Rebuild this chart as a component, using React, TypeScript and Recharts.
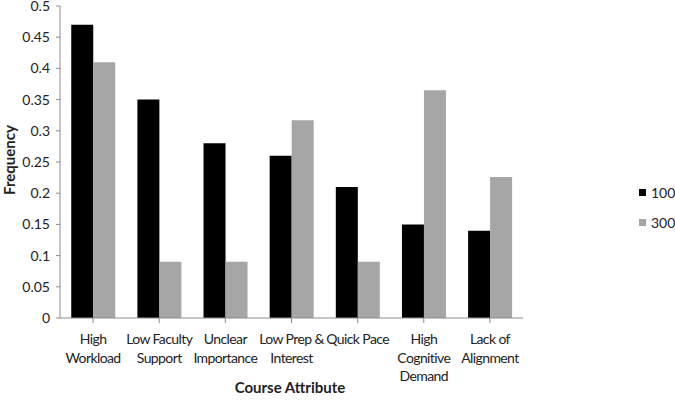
import React from 'react';
import { BarChart, Bar, XAxis, YAxis, Legend } from 'recharts';

const categories = [
  'High\nWorkload',
  'Low Faculty\nSupport',
  'Unclear\nImportance',
  'Low Prep &\nInterest',
  'Quick Pace',
  'High\nCognitive\nDemand',
  'Lack of\nAlignment',
];
const series100 = [0.47, 0.35, 0.28, 0.26, 0.21, 0.15, 0.14];
const series300 = [0.41, 0.09, 0.09, 0.317, 0.09, 0.365, 0.226];
const yTicks = [0, 0.05, 0.1, 0.15, 0.2, 0.25, 0.3, 0.35, 0.4, 0.45, 0.5];

const data = categories.map((c, i) => ({ name: c, s100: series100[i], s300: series300[i] }));

const FONT = 'Lato, "Open Sans", sans-serif';
const AXIS = '#8c8c8c';

const XTick = (props: any) => {
  const { x, y, payload } = props;
  const lines = String(payload.value).split('\n');
  return (
    <g>
      {lines.map((l: string, i: number) => (
        <text key={i} x={x} y={y + 19 + i * 18.5} textAnchor="middle" fill="#222" fontSize={14} letterSpacing={-0.6} fontFamily={FONT}>
          {l}
        </text>
      ))}
    </g>
  );
};

const fmt = (v: number) => (v === 0 ? '0' : String(v));

const LegendContent = () => (
  <div style={{ fontFamily: FONT, fontSize: 14, color: '#222' }}>
    {[
      { label: '100', color: '#000000' },
      { label: '300', color: '#a6a6a6' },
    ].map((it, i) => (
      <div key={i} style={{ display: 'flex', alignItems: 'center', height: 30, whiteSpace: 'nowrap' }}>
        <span style={{ display: 'inline-block', flex: '0 0 7px', width: 7, height: 7, background: it.color, marginRight: 5 }} />
        <span>{it.label}</span>
      </div>
    ))}
  </div>
);

export default function App() {
  return (
    <div style={{ position: 'absolute', left: 0, top: 0, background: '#fff' }}>
      <BarChart
        width={675}
        height={404}
        data={data}
        margin={{ top: 6, right: 152, bottom: 0, left: 0 }}
        barCategoryGap="17%"
        barGap={0}
      >
        <XAxis
          dataKey="name"
          interval={0}
          height={86}
          tick={<XTick />}
          tickSize={5}
          stroke={AXIS}
          axisLine={{ stroke: AXIS }}
          tickLine={{ stroke: AXIS }}
          label={{
            content: () => (
              <text x={290} y={393} textAnchor="middle" fontWeight="bold" fontSize={15} fontFamily={FONT} fill="#222">
                Course Attribute
              </text>
            ),
          }}
        />
        <YAxis
          domain={[0, 0.5]}
          ticks={yTicks}
          width={60}
          tickSize={4}
          tickMargin={6}
          tickFormatter={fmt}
          interval={0}
          axisLine={{ stroke: AXIS }}
          tickLine={{ stroke: AXIS }}
          tick={{ fill: '#222', fontSize: 14, fontFamily: FONT }}
          label={{
            content: () => (
              <text x={15} y={160} transform="rotate(-90,15,160)" textAnchor="middle" fontWeight="bold" fontSize={15} fontFamily={FONT} fill="#222">
                Frequency
              </text>
            ),
          }}
        />
        <Legend
          layout="vertical"
          align="center"
          verticalAlign="middle"
          content={<LegendContent />}
          wrapperStyle={{ left: 639, top: 177, width: 36, height: 60 }}
        />
        <Bar dataKey="s100" name="100" fill="#000000" isAnimationActive={false} />
        <Bar dataKey="s300" name="300" fill="#a6a6a6" isAnimationActive={false} />
      </BarChart>
    </div>
  );
}
